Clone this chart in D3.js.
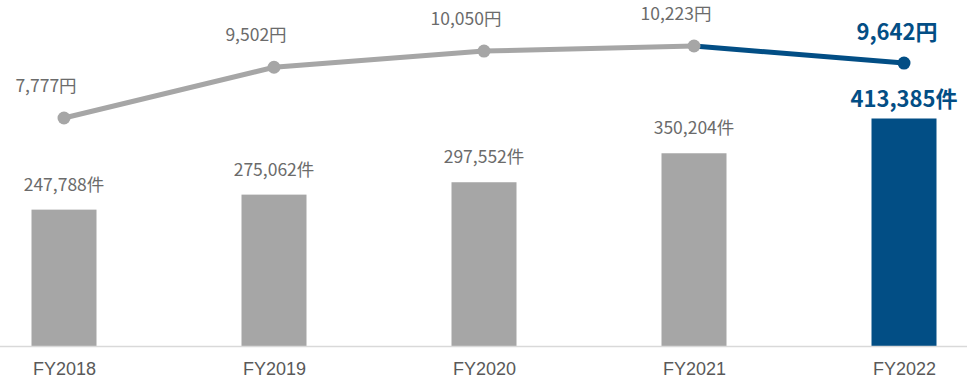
<!DOCTYPE html>
<html><head><meta charset="utf-8">
<script src="https://cdn.jsdelivr.net/npm/d3@7"></script>
<style>body{margin:0;background:#fff}svg{display:block}text{font-family:"Noto Sans CJK JP","Noto Sans",sans-serif}text.ax{font-family:"Liberation Sans",Arial,sans-serif}</style>
</head><body><svg id="c" width="967" height="380"></svg>
<script>
const categories = ["FY2018","FY2019","FY2020","FY2021","FY2022"];
const counts = [247788, 275062, 297552, 350204, 413385];
const prices = [7777, 9502, 10050, 10223, 9642];
const countLabels = ["247,788件","275,062件","297,552件","350,204件","413,385件"];
const priceLabels = ["7,777円","9,502円","10,050円","10,223円","9,642円"];

const svg = d3.select("#c");
const gray = "#a6a6a6", blue = "#024e85", txt = "#6b6b6b";
const baseY = 346;
const x = d3.scalePoint().domain(categories).range([64, 904]);
const yBar = d3.scaleLinear().domain([0, 413385]).range([baseY, 118.5]);
const yLine = d3.scaleLinear().domain([7777, 10223]).range([118, 46]);
const barW = 65;
const last = categories.length - 1;

svg.selectAll("rect.bar").data(counts).join("rect")
  .attr("x", (d,i) => x(categories[i]) - barW/2)
  .attr("y", d => yBar(d))
  .attr("width", barW)
  .attr("height", d => baseY - yBar(d))
  .attr("fill", (d,i) => i === last ? blue : gray);

// axis
const axis = svg.append("g").attr("transform", `translate(0,${baseY})`)
  .call(d3.axisBottom(x).tickSize(0).tickPadding(16));
axis.select(".domain").attr("d", "M0,0.5H967").attr("stroke", "#d9d9d9").attr("stroke-width", 1.5);
axis.selectAll("text").attr("class", "ax").attr("font-size", 18).attr("fill", "#595959");

// bar labels
svg.selectAll("text.bl").data(counts).join("text")
  .attr("x", (d,i) => x(categories[i]))
  .attr("y", (d,i) => yBar(d) - (i === last ? 12 : 19))
  .attr("text-anchor", "middle")
  .attr("font-size", (d,i) => i === last ? 22 : 17.5)
  .attr("font-weight", (d,i) => i === last ? "bold" : "normal")
  .attr("fill", (d,i) => i === last ? blue : txt)
  .text((d,i) => countLabels[i]);

// line
const pts = prices.map((v,i) => [x(categories[i]), yLine(v)]);
const line = d3.line();
svg.append("path").attr("d", line(pts.slice(0, last))).attr("fill","none")
  .attr("stroke", gray).attr("stroke-width", 5);
svg.append("path").attr("d", line(pts.slice(last - 1))).attr("fill","none")
  .attr("stroke", blue).attr("stroke-width", 5);
svg.selectAll("circle.pt").data(prices).join("circle")
  .attr("cx", (d,i) => x(categories[i]))
  .attr("cy", d => yLine(d))
  .attr("r", 6.5)
  .attr("fill", (d,i) => i === last ? blue : gray);

svg.selectAll("text.pl").data(prices).join("text")
  .attr("x", (d,i) => x(categories[i]) - (i === last ? 7 : 18))
  .attr("y", (d,i) => yLine(d) - (i === last ? 23 : 26))
  .attr("text-anchor", "middle")
  .attr("font-size", (d,i) => i === last ? 22 : 17.5)
  .attr("font-weight", (d,i) => i === last ? "bold" : "normal")
  .attr("fill", (d,i) => i === last ? blue : txt)
  .text((d,i) => priceLabels[i]);
</script></body></html>
